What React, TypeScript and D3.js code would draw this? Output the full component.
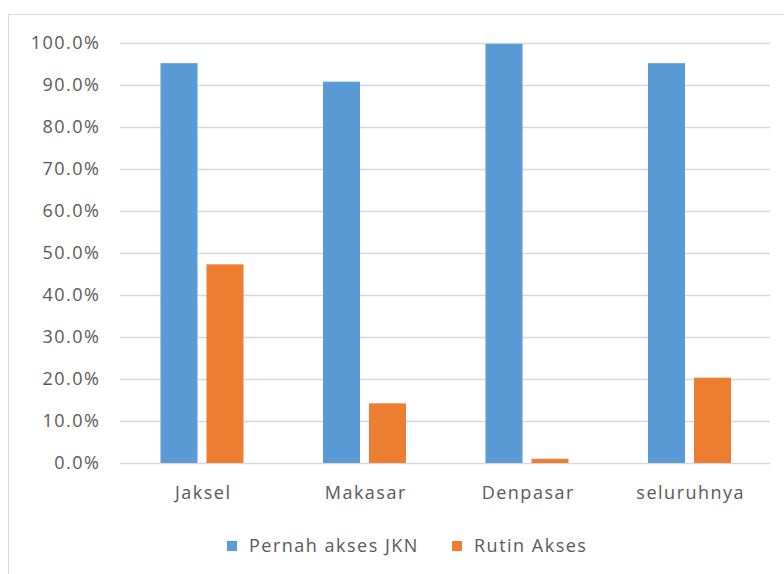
import React from "react";
import * as d3 from "d3";

const categories = ["Jaksel", "Makasar", "Denpasar", "seluruhnya"];
const seriesNames = ["Pernah akses JKN", "Rutin Akses"];
const pernahAkses = [95.2, 90.8, 99.8, 95.2];
const rutinAkses = [47.3, 14.2, 1.0, 20.3];
const yTicks = [0, 10, 20, 30, 40, 50, 60, 70, 80, 90, 100];

const colors = ["#5B9BD5", "#ED7D31"];
const W = 784;
const H = 574;
const plot = { left: 120, right: 770, top: 43, bottom: 463 };
const font = "'Open Sans', 'Noto Sans', sans-serif";
const textColor = "#595959";
const fs = 18;
const ls = 1.5;

export default function App() {
  const x0 = d3.scaleBand<string>().domain(categories).range([plot.left, plot.right]);
  const x1 = d3
    .scaleBand<string>()
    .domain(seriesNames)
    .range([40.5, 123.5])
    .paddingInner(9 / 46);
  const y = d3.scaleLinear().domain([0, 100]).range([plot.bottom, plot.top]);
  const values = [pernahAkses, rutinAkses];

  return (
    <div style={{ position: "fixed", left: 0, top: 0 }}>
      <svg width={W} height={H} style={{ display: "block", background: "#fff" }}>
        <rect x={8.5} y={14.5} width={W} height={H} fill="#fff" stroke="#D9D9D9" strokeWidth={1} />
        {yTicks.map((t) => (
          <g key={t}>
            <line
              x1={plot.left}
              x2={plot.right}
              y1={Math.round(y(t)) + 0.5}
              y2={Math.round(y(t)) + 0.5}
              stroke="#D9D9D9"
              strokeWidth={1.5}
            />
            <text
              x={99 + ls}
              y={y(t)}
              dy="0.35em"
              textAnchor="end"
              fontFamily={font}
              fontSize={fs}
              fill={textColor}
              letterSpacing={ls}
            >
              {d3.format(".1f")(t) + "%"}
            </text>
          </g>
        ))}
        {categories.map((c, i) => (
          <g key={c} transform={`translate(${x0(c)},0)`}>
            {seriesNames.map((s, j) => (
              <rect
                key={s}
                x={x1(s)}
                y={y(values[j][i])}
                width={x1.bandwidth()}
                height={y(0) - y(values[j][i])}
                fill={colors[j]}
              />
            ))}
            <text
              x={x0.bandwidth() / 2 + 2}
              y={493}
              dy="0.35em"
              textAnchor="middle"
              fontFamily={font}
              fontSize={fs}
              fill={textColor}
              letterSpacing={ls}
            >
              {c}
            </text>
          </g>
        ))}
        {seriesNames.map((s, j) => {
          const lx = [227, 452][j];
          return (
            <g key={s} transform={`translate(${lx},541)`}>
              <rect width={10} height={10} fill={colors[j]} />
              <text
                x={22}
                y={5}
                dy="0.35em"
                fontFamily={font}
                fontSize={fs}
                fill={textColor}
                letterSpacing={ls}
              >
                {s}
              </text>
            </g>
          );
        })}
      </svg>
    </div>
  );
}
